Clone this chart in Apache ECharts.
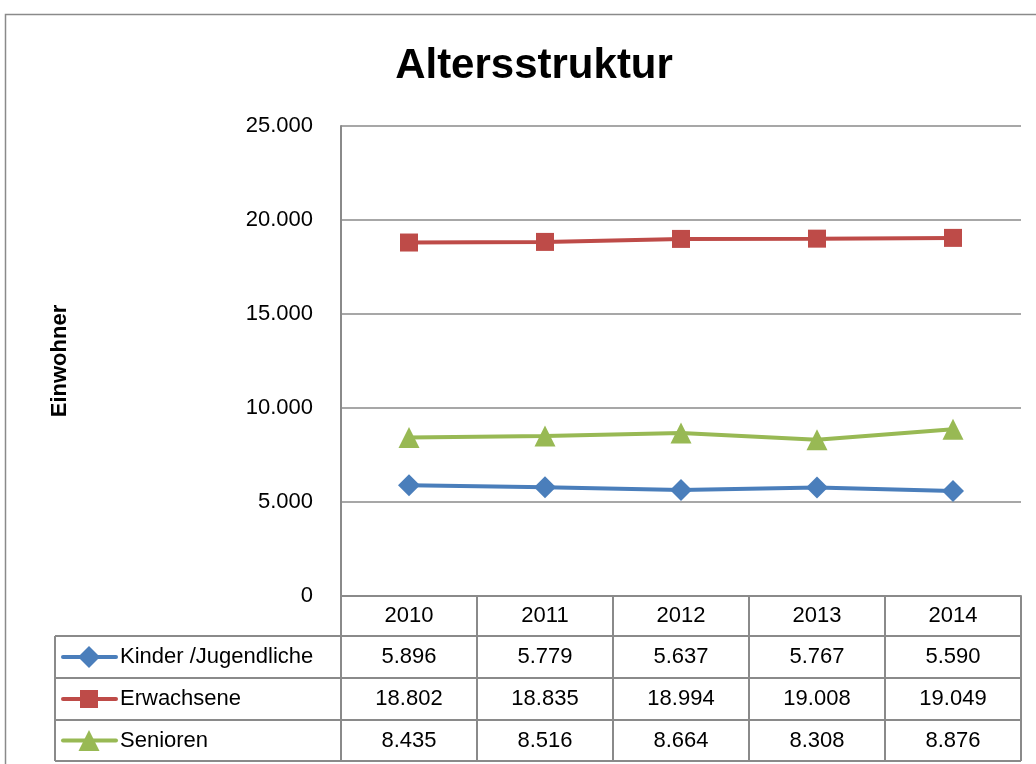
<!DOCTYPE html>
<html><head><meta charset="utf-8">
<script src="https://cdn.jsdelivr.net/npm/echarts@6/dist/echarts.min.js"></script>
<style>html,body{margin:0;padding:0;background:#fff}#c{width:1036px;height:764px}</style>
</head><body><div id="c"></div>
<script>
const years = ['2010','2011','2012','2013','2014'];
const kinder = [5896, 5779, 5637, 5767, 5590];
const erwachsene = [18802, 18835, 18994, 19008, 19049];
const senioren = [8435, 8516, 8664, 8308, 8876];
const seriesNames = ['Kinder /Jugendliche', 'Erwachsene', 'Senioren'];
const yTicks = [0, 5000, 10000, 15000, 20000, 25000];

const colors = ['#4a7ebb', '#be4b48', '#98b954'];
const symbols = ['diamond', 'rect', 'triangle'];
const symSizes = [22, 18, 21];
const FONT = '"Liberation Sans", Arial, sans-serif';
const GRAY = '#8a8a8a';
const fmt = v => v.toLocaleString('de-DE');

const chart = echarts.init(document.getElementById('c'), null, {renderer: 'canvas'});
const allData = [kinder, erwachsene, senioren];
chart.setOption({
  animation: false,
  title: {text: 'Altersstruktur', left: 529, top: 40, textAlign: 'center',
    textStyle: {fontFamily: FONT, fontWeight: 'bold', fontSize: 42, color: '#000'}},
  grid: {left: 341, top: 126, right: 15, bottom: 168},
  xAxis: {type: 'category', data: years, boundaryGap: true,
    axisLine: {lineStyle: {color: GRAY, width: 2}}, axisTick: {show: false}, axisLabel: {show: false}},
  yAxis: {type: 'value', min: yTicks[0], max: yTicks[yTicks.length - 1], interval: yTicks[1] - yTicks[0],
    name: 'Einwohner', nameLocation: 'middle', nameGap: 270, nameRotate: 90,
    nameTextStyle: {fontFamily: FONT, fontWeight: 'bold', fontSize: 22, color: '#000'},
    axisLine: {show: true, lineStyle: {color: GRAY, width: 2}}, axisTick: {show: false},
    axisLabel: {fontFamily: FONT, fontSize: 22, color: '#000', margin: 28, formatter: v => fmt(v)},
    splitLine: {lineStyle: {color: GRAY, width: 1.5}}},
  series: allData.map((d, i) => ({
    name: seriesNames[i], type: 'line', data: d,
    symbol: symbols[i], symbolSize: symSizes[i],
    lineStyle: {color: colors[i], width: 4}, itemStyle: {color: colors[i]}
  }))
});

// Build the data table from the axis scale
const y0 = chart.convertToPixel({yAxisIndex: 0}, 0);
const xs = years.map((_, i) => chart.convertToPixel({xAxisIndex: 0}, i));
const colW = xs[1] - xs[0];
const left = xs[0] - colW / 2, right = xs[xs.length - 1] + colW / 2;
const rows = [y0, 636, 678, 720, 761];
const tblLeft = 55;
const g = [];
const lineStyle = {stroke: GRAY, lineWidth: 2};
// frame
g.push({type: 'rect', shape: {x: 5.5, y: 14.5, width: 1100, height: 900}, style: {fill: null, stroke: GRAY, lineWidth: 1.5}});
// horizontal lines
g.push({type: 'line', shape: {x1: left, y1: rows[0], x2: right, y2: rows[0]}, style: lineStyle});
for (let r = 1; r < rows.length; r++) {
  g.push({type: 'line', shape: {x1: tblLeft, y1: rows[r], x2: right, y2: rows[r]}, style: lineStyle});
}
// vertical lines
for (let c = 0; c <= years.length; c++) {
  const x = left + c * colW;
  g.push({type: 'line', shape: {x1: x, y1: rows[0], x2: x, y2: rows[4]}, style: lineStyle});
}
g.push({type: 'line', shape: {x1: tblLeft, y1: rows[1], x2: tblLeft, y2: rows[4]}, style: lineStyle});
// header
years.forEach((yr, i) => g.push({type: 'text', x: xs[i], y: (rows[0] + rows[1]) / 2,
  style: {text: yr, fontFamily: FONT, fontSize: 22, fill: '#000', align: 'center', verticalAlign: 'middle'}}));
// rows
allData.forEach((d, r) => {
  const cy = (rows[r + 1] + rows[r + 2]) / 2;
  d.forEach((v, i) => g.push({type: 'text', x: xs[i], y: cy,
    style: {text: fmt(v), fontFamily: FONT, fontSize: 22, fill: '#000', align: 'center', verticalAlign: 'middle'}}));
  g.push({type: 'line', shape: {x1: 63, y1: cy, x2: 116, y2: cy}, style: {stroke: colors[r], lineWidth: 4, lineCap: 'round'}});
  const s = symSizes[r];
  let shape;
  if (r === 0) shape = {type: 'polygon', shape: {points: [[89, cy - s/2], [89 + s/2, cy], [89, cy + s/2], [89 - s/2, cy]]}};
  else if (r === 1) shape = {type: 'rect', shape: {x: 89 - s/2, y: cy - s/2, width: s, height: s}};
  else shape = {type: 'polygon', shape: {points: [[89, cy - s/2], [89 + s/2, cy + s/2], [89 - s/2, cy + s/2]]}};
  shape.style = {fill: colors[r]};
  g.push(shape);
  g.push({type: 'text', x: 120, y: cy, style: {text: seriesNames[r], fontFamily: FONT, fontSize: 22, fill: '#000', align: 'left', verticalAlign: 'middle'}});
});
chart.setOption({graphic: g});
</script></body></html>
